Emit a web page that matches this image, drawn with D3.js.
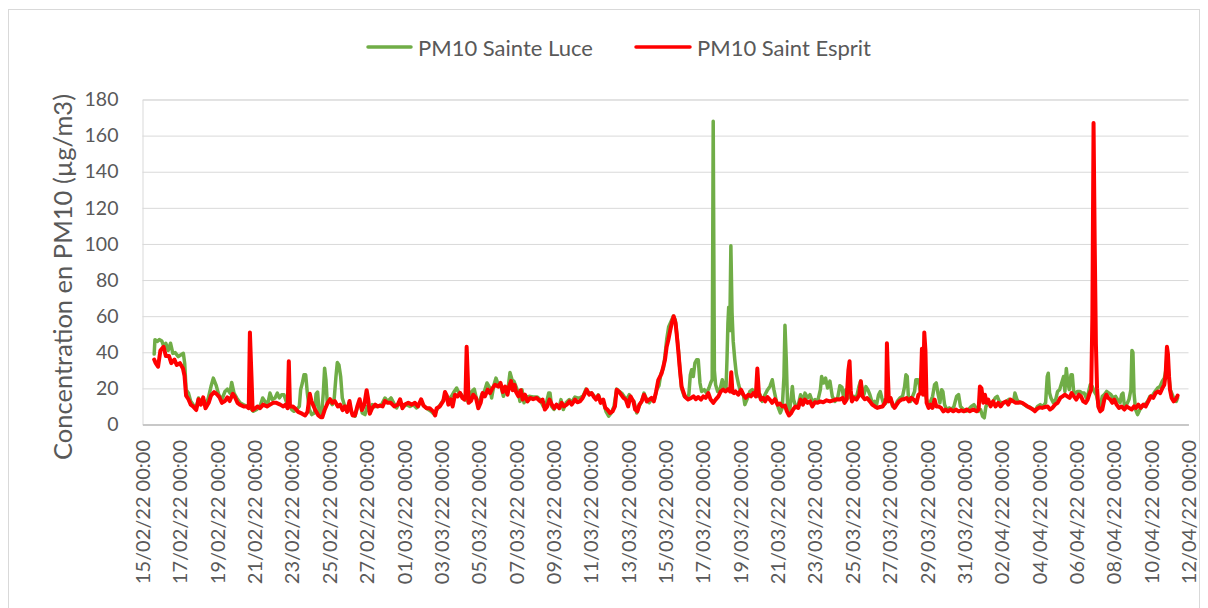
<!DOCTYPE html>
<html><head><meta charset="utf-8">
<script src="https://cdn.jsdelivr.net/npm/d3@7"></script>
<style>
body{margin:0;background:#fff;}
text{font-family: Lato, "Open Sans", sans-serif;}
</style>
</head><body>
<svg id="chart" width="1208" height="608"></svg>
<script>
const seriesNames = ["PM10 Sainte Luce", "PM10 Saint Esprit"];
const seriesColors = ["#70AD47", "#FF0000"];
const axisTitle = "Concentration en PM10 (µg/m3)";
const startDate = Date.UTC(2022, 1, 15);
const endDate = Date.UTC(2022, 3, 12);
const yTicks = [0, 20, 40, 60, 80, 100, 120, 140, 160, 180];
const xTickStepDays = 2;

// hours after 15/02/22 00:00 and PM10 values (µg/m3)
const luceHours = [15,16,19,21.6,24.6,27.6,30,33,36,39,42,46,49,52.5,54.2,56,59,62,65,69,72,75,78,81,84.6,88,91,94.4,98,102,106,109,112.4,114.6,117.6,121,125.3,131.7,136.4,142.4,146.7,151,154.4,157.4,160.8,163.8,166.8,170.3,173.3,175.8,178.8,181.8,185.3,188.7,191.7,194.7,198,201.5,203.2,205.4,207.5,209.7,211.8,214.4,217.4,221,223,225,227,230,232.3,234,235.7,237.4,240.9,243.9,246.4,248.6,250.3,252.4,254.6,256.7,259.3,262.3,265.7,268.7,273,276.4,279.4,282.4,285.9,288.8,292.3,295.3,298.7,303,307.3,311.5,315,319.3,322.7,326.5,330.8,335,339.4,343.7,348,352.2,357.8,362,366.4,370.7,375,378.4,382.6,387,390,393,397,400.6,403.6,406.6,410,414.4,418.6,423,426.3,429.3,432.3,435.8,439.2,442.6,446.5,448.6,451.6,454.2,457.2,460.2,463.7,466.6,469.2,472.2,474.8,477.3,480,483,485,487.6,490.2,493.6,498,502,507.3,510.7,515,518.5,521.9,523.6,525.7,528.7,532.2,535.6,537.7,540.7,544.2,548.4,551.4,555.7,558.7,562,566.4,569.8,573.3,577,580,582.7,585.7,588.7,592,595.5,599,602.4,605.8,609.3,612.7,615.7,618.7,622,625.5,628.5,631.5,635,638,641.4,644.4,648,651,654.2,657.7,660.7,663.6,666.2,669.2,671.3,673.5,676,679,682,684.5,686.5,688.4,690.6,692.7,696,699.6,702,703.9,705.6,707.7,709.8,712,714.1,716.3,718.4,721.8,724.8,727.8,730,732,733.3,734.8,736.4,739,742,745,747.5,749.7,751,752.2,753.2,754.6,756,757.5,759,761,763,766,769,772,774,777.5,780.5,783.5,787,790,793.4,796.4,799.8,803.2,806.2,809.2,811.3,814,817,819.5,822,824.2,825.5,827.2,829,831,833.2,835,836.6,839.2,842.6,845.6,848.6,851.2,854.6,857.6,860.6,864,867.5,871,872.6,875.2,877.7,880.3,883.3,886.3,889.7,893.2,896,898.7,901.2,903.8,906.4,909,911.5,914,917.5,920.5,922.7,924.8,927,929.5,932,934.6,937.6,940.2,943.2,945.8,947.9,950,952.6,955.2,958.2,961.2,963.8,966.8,969.8,973.2,976.6,979.2,980.9,982.6,984.3,986.9,989.5,992,993.7,996.3,998,999.7,1002.3,1004,1005.7,1007.5,1010,1012.6,1015.2,1017.7,1019.9,1022,1024.6,1026.7,1028.4,1030.6,1033.2,1036.6,1039.6,1042.6,1046,1048.6,1051,1054.6,1058,1061.4,1064.9,1068.3,1070.8,1073.8,1076.8,1079.4,1081.6,1083.7,1086.7,1089.7,1093,1095.7,1098.3,1100.8,1103.8,1106.8,1110.3,1113.7,1116.7,1119.7,1121,1123.6,1126,1129.6,1133,1136.4,1139.8,1143.3,1146.7,1150,1153.5,1157,1160.4,1162.5,1163.8,1165.5,1167.3,1170.3,1173.3,1175.8,1178.4,1181,1183.5,1185.2,1187,1188.7,1190.8,1193,1194.7,1196.4,1199,1201.5,1204.5,1207.5,1210,1212.7,1215.2,1217.8,1220.4,1222.9,1225.5,1228,1230.6,1233.2,1235.8,1238.8,1241.8,1244.4,1247.3,1250.3,1253,1256,1258,1259.8,1261.5,1264.5,1267.5,1270,1271.3,1272.6,1274,1276,1278.6,1281.6,1284.6,1288,1291.5,1294.5,1297.5,1301,1304.3,1307.3,1310.3,1313,1315,1316.7,1318.4,1320.6,1323.2,1325.7,1328.3,1330];
const luceValues = [39,47,46,47,46.4,43,45,41,45,39.4,39.8,37.6,38.5,39.4,34,19.3,17.4,12.8,11,9.2,14.7,12.3,14,10.5,14.7,21,25.7,22,16.5,13.8,18.3,19.6,17.4,23.3,17.4,14.7,12,10.5,10,7.3,8.3,10,14.7,12.8,11,17.4,13.8,14.7,17.4,14.7,16.5,16.5,12,11,8.3,7.3,8.3,10,19.3,23,27.5,27.5,17.4,8.3,5.5,6.4,17,18,6.4,4.6,17.4,31.2,24.8,12,12.8,11,14.7,26.6,34.3,33,26.6,14.7,11,8.3,12,6.4,4.6,10,12,6.4,5.5,10,6.4,11,10,10,11,14.7,12.8,14.7,12,9.2,12.8,10,11,10,11,9.2,12.8,10,8.6,7.3,5.5,8.3,11,13.8,16.5,13.8,15.6,18.3,20.2,17.4,16.5,13.8,12.8,18.3,19.6,13.8,12,16.5,18.3,23,20.2,14.7,22,25.7,22,22,15.6,19.3,18.3,28.8,24.8,23.9,21,17.4,12.8,19.3,12,15.2,15.6,15.2,15.2,13.8,10,11,17.4,17.4,10,8.3,11,10,13.8,8.3,12,13.8,12.3,15.2,14.7,14.7,16,19.6,17.4,17.4,16,14,16.5,12.8,12.8,7.3,4.6,6.4,10,19.6,18.3,17.4,15.6,13.8,16.5,13.8,12.8,6.4,10,12.8,17.4,13.8,12,14,13.8,19.3,21.5,28.4,31,38,47,54,57,60,58,50,42,30,20,15.6,14.7,16.5,27.5,30.3,26.6,34,35.8,35.8,23,18.3,19.3,17.4,20.2,23,25,168,30,22,18.3,19.3,24.8,20.2,19.3,36,56,65,52,99,62,46,36,28,22,17.4,16.5,11,14.7,18.3,19.3,17.4,15.6,16.5,12.8,16.5,19.3,21.1,24.8,19.3,13.8,9.2,6.4,9.2,26.6,55,35.8,8.3,5.5,13.8,21.1,13.8,10,11,16.5,12.8,17.4,14.7,16.5,12.8,13.8,12.8,19.3,26.6,23,25.7,20.2,24,15.6,12.8,14.7,21.5,20.7,13.8,19.3,14.7,17.4,13.8,15.6,15.2,21,24,19.3,16.5,21,19.3,16.5,12,12.8,11,16.5,18.3,14.7,11,12,13.8,14.7,10,10,12.8,14.7,15.6,21,27.5,26.6,13.8,12.8,15.6,18.3,24.8,24.8,22,17.4,21,19.3,17.4,13.8,10,12.8,15.6,22,23,17.4,12,19.3,18.3,11,8.3,9.2,8.3,10,15.6,16.5,10,8.3,7.3,8.3,10,11,9.2,7.3,8.3,4.6,3.7,10,12,11,12.8,14.7,15.6,12.8,12,12,12.8,14,12.8,13.8,17.4,13.8,12.3,12,11,10,9.7,8.6,7.7,10,11,10,12,26.6,28.4,17.4,14.7,12,13.8,18.3,19.3,23,26.6,18.3,31,24,19.3,27.5,27.5,18.3,17.4,18.3,18.3,17.4,17.4,14.7,17.4,22,21,18.3,16.5,12,10,15.6,16.5,18.3,17.4,16.5,14.7,15.6,13.8,12,16.5,17.4,11,11,13.8,19.3,41,40,17.4,8.3,5.5,8.3,10,11,12.8,15.6,16,18.3,20.2,21,24,25.7,30.3,39.4,28.4,19.3,16.5,13.8,12.8,14.7];

const espritHours = [15,17,20,23,27,30,34,37,41,44,48,52,54,56,59,62,65,69,72,75,78,81,85,88,92,95,99,102,106,109,112,116,119,122,125,130,134,136.5,138,140,141.5,145,148,151,155,160,164,168,172,177,181,184,186.5,188,189.5,193,196,200,205,209,212,215,217,220,222,226,229,231,234,238,241,244,247,251,254,257,260,263,266,268,270,273,276,279,282,285,288,290,292,295,299,302,305,308.5,311.5,315,319,323.5,328,331,334,337,341.5,346,350,354,358,361,365,369,374,376,378,382,386.5,388.6,391,393,396,398.5,401.5,405,408,411,413.5,415,416.5,418,419,422,425,428.5,431.5,434.5,437,440,443.5,446.5,449.5,453,457,460,463,466,469,471,473.5,475.6,478,480,483,486,488.5,491.5,494.5,498,502,506.5,511,514,517,520,523,526,529,532,535.6,538.6,541.6,545,548.4,551.4,555.7,558.7,562,565.6,568.6,570.7,574,577,580,582.7,585.7,588.7,592,594.7,597.3,600.7,604,607,609.3,612,615,618,621,624,627,630.7,633,636,638.4,641.4,644.4,648,651,654,657,660,662.7,667,671.3,673.5,675.6,678,680,682.5,685,686.3,688.4,690.6,692.7,697,701,705,708,711,714,717.6,720.6,723.6,727,730,733.4,736.4,740,743,746,749,752.7,755,756.5,758,760,762,765.5,769,772,775,778.4,781.8,784.8,788,790,792,794.6,797.6,800,803,806,809,812.6,816,819,822,825.5,828,830.6,833,836,839,842.6,845.6,848.6,851,854.6,857.6,860.6,864,867.5,871,874.7,879,883.3,887.6,892,896,899.5,902,904.7,907,908.5,910,911.5,914,917.5,921,923,925,928,931,934.6,937.6,941,944,947.5,951,954,955.6,956.5,957.8,959,961.2,963.8,966.3,969,972,975.3,978.3,981.8,984.8,987.8,991,994.6,997,999.7,1001.5,1003,1004.5,1006,1007.5,1010,1012.6,1015,1017.7,1020,1023,1026,1029,1032,1035,1038,1041.7,1045,1048.6,1052,1055.4,1059,1063,1067.4,1071.7,1074.3,1076,1078,1080.3,1082.4,1084.6,1086.7,1089.7,1093,1096,1099.5,1102.5,1106,1109.4,1112.4,1115.4,1118.8,1122,1125,1127.4,1130.4,1133.8,1137.3,1140.7,1144,1146.7,1149.3,1152.7,1156,1159.5,1163,1166,1169,1172.4,1175.8,1179.2,1182.2,1185.2,1188.2,1191.2,1193.8,1196.8,1199.8,1203.2,1205.8,1208.8,1211.8,1214.4,1217,1219,1220.5,1222,1223.5,1225,1226.5,1228.1,1230.6,1233.2,1235.8,1238.4,1241,1243.5,1246,1248.6,1251.6,1254.6,1258,1261.5,1264.5,1267.5,1271,1274,1276.5,1279.5,1282.5,1286,1289,1292.3,1295.7,1298.7,1301.7,1305,1307.7,1310.3,1312.9,1314.6,1316.3,1317.6,1319,1320.2,1322.3,1325,1327.4,1330];
const espritValues = [36,34,32,41,43,38,38,34,36,33,34,31,27,16,14,11,10,8,14,11,15,9,12,16,18,17,15,12,13,15,13,17,15,12,11,10,10,9,51,27,8,9,10,9,11,10,11,12,12,11,10,11,9,35,10,10,9,7,6,5,7,17,13,10,8,5,4,4,8,12,14,12,13,10,11,8,10,7,13,8,5,5,10,14,8,11,19,14,6,9,11,10,10.5,10,13,12,12,10,11,14,9,11,12,11,12,10,14,10.5,9,9,7,5,9,10,13,18,16,11,14,10,16.5,15.5,17.5,14.7,13.8,15.6,43,26,12,13,16.5,14.7,9,12,17.4,15.6,19.3,17.4,20,22,21,23,18,21,16.5,21,24,19,22,18,15.6,19,13.8,16.5,12.8,14.7,14,14.7,12.8,13.8,8.3,10,13.8,11,9,11,9,12,10,11,12.8,11,13.8,12.3,12.8,14.7,17.4,19.3,16.5,17.4,15.2,13.8,16,12,13.8,9.2,8.3,6.4,7.3,10,19.3,18.3,16.5,14.7,13.8,10,15.6,12.8,8.3,7.3,11,12.8,16.5,12.8,13.8,14.7,12.8,18.3,24.6,28.3,35.7,43,46.8,52,56,60,56,50.5,41,30,21,15.4,13.8,14.7,15.6,14,15.2,13.8,15.6,14.7,17.4,13.8,12,13.8,15.6,18.3,19.3,18.3,19.6,18.3,29,18,17.4,18.3,16.5,19.3,16.5,14.7,16.5,15.6,17.4,15.6,31,17.4,13.8,14.7,12.8,15.2,13.8,12,14,11,11.6,10,10.5,7.3,5,6,8.3,10,9.2,13.8,11,13.8,12,12.8,10,12.3,12,12.8,12.3,13.4,12.8,13.4,14,13.8,14.7,12,13.8,30,35,19,12.8,14.7,13.8,16.5,24,15.6,14,14.7,12.8,11,10,9.2,9.7,10,12,14.7,45,26.6,12.8,14.7,11,9.2,11,12.8,13.8,14,14.7,12.8,14.7,13.8,12,16.5,17.4,42,16.5,51,41,12,9.2,11,9.2,13.8,10,10,9.2,7.3,8.3,7.3,8.3,7.3,8.3,7.3,7.9,7.3,8.3,7.3,8.3,7.3,8.3,21,20,12,16.5,12,13.8,10,12.8,10,12,10,12,12.8,11,13.8,12.8,12,12,12.3,12,11,10,9.2,8.3,7.3,8.6,9.5,9.2,9.7,10,8.3,9.2,11,12,14.7,15.6,16.5,15.6,14.7,17.4,15.6,13.8,16.5,15.6,12.8,12,13.8,17.4,19.3,60,167,100,45,20,10,7.3,8.3,13.8,16.5,14.7,13.8,12,13.8,11,9.2,10,8.3,10,9.2,8.3,10,9.2,11,9.2,11,10,12.8,15.6,14.7,17.4,18.3,17.4,20,22,27.5,43,39,26.6,19.3,14.7,12.8,13.8,16];

const svg = d3.select("#chart");
const W = 1208, H = 608;
const fontFamily = "Lato, 'Open Sans', sans-serif";
svg.append("rect").attr("width", W).attr("height", H).attr("fill", "#fff");
svg.append("rect").attr("x", 8.5).attr("y", 9.5).attr("width", 1191).attr("height", 620)
  .attr("fill", "none").attr("stroke", "#d9d9d9").attr("stroke-width", 1);

const plot = {left: 142.5, right: 1188.5, top: 99.5, bottom: 424.5};
const x = d3.scaleUtc().domain([new Date(startDate), new Date(endDate)]).range([plot.left, plot.right]);
const y = d3.scaleLinear().domain([0, 180]).range([plot.bottom, plot.top]);

const textColor = "#595959";

// y axis + gridlines
const yAxis = svg.append("g").attr("transform", `translate(${plot.left},0)`)
  .call(d3.axisLeft(y).tickValues(yTicks).tickSize(-(plot.right - plot.left)).tickPadding(24));
yAxis.select(".domain").attr("stroke", "#d9d9d9");
yAxis.selectAll(".tick line").attr("stroke", "#d9d9d9").attr("stroke-width", 1);
yAxis.selectAll(".tick text").attr("fill", textColor).attr("font-size", 19.5).attr("font-family", fontFamily);

// x axis
const xTicks = d3.range(0, 29).map(i => d3.utcDay.offset(new Date(startDate), i * xTickStepDays));
const xAxis = svg.append("g").attr("transform", `translate(0,${plot.bottom})`)
  .call(d3.axisBottom(x).tickValues(xTicks).tickSize(0).tickFormat(d3.utcFormat("%d/%m/%y %H:%M")));
xAxis.select(".domain").attr("stroke", "#bfbfbf").attr("stroke-width", 1.5);
xAxis.selectAll(".tick text")
  .attr("fill", textColor).attr("font-size", 20).attr("font-family", fontFamily)
  .attr("transform", "rotate(-90)").attr("text-anchor", "end")
  .attr("x", -15.5).attr("y", 0).attr("dy", "0.35em");

// axis title
svg.append("text").attr("transform", `translate(62,${(plot.top + plot.bottom) / 2 + 15}) rotate(-90)`)
  .attr("text-anchor", "middle").attr("dominant-baseline", "central")
  .attr("fill", textColor).attr("font-size", 25.5).text(axisTitle);

// series
const toPoints = (hours, values) => hours.map((h, i) => ({t: new Date(startDate + h * 3600e3), v: values[i]}));
const line = d3.line().x(d => x(d.t)).y(d => y(d.v));
const series = [
  {pts: toPoints(luceHours, luceValues), color: seriesColors[0], w: 3.5},
  {pts: toPoints(espritHours, espritValues), color: seriesColors[1], w: 4}
];
series.forEach(s => {
  svg.append("path").datum(s.pts).attr("d", line).attr("fill", "none")
    .attr("stroke", s.color).attr("stroke-width", s.w)
    .attr("stroke-linejoin", "round").attr("stroke-linecap", "round");
});

// legend
const legendItems = [
  {name: seriesNames[0], color: seriesColors[0], x1: 368, x2: 411},
  {name: seriesNames[1], color: seriesColors[1], x1: 636, x2: 690}
];
legendItems.forEach(l => {
  svg.append("line").attr("x1", l.x1).attr("x2", l.x2).attr("y1", 47).attr("y2", 47)
    .attr("stroke", l.color).attr("stroke-width", 3.5).attr("stroke-linecap", "round");
  svg.append("text").attr("x", l.x2 + 7).attr("y", 47).attr("dominant-baseline", "central")
    .attr("fill", textColor).attr("font-size", 22).text(l.name);
});
</script>
</body></html>
